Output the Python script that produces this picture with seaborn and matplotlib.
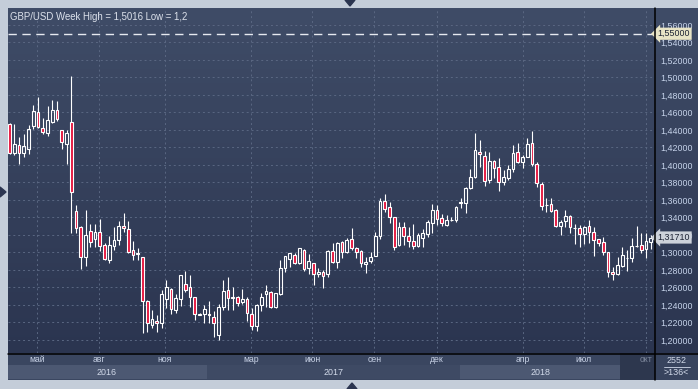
import numpy as np
import pandas as pd
import matplotlib
matplotlib.use("Agg")
import matplotlib.pyplot as plt
import matplotlib.transforms as mtransforms
from matplotlib.colors import LinearSegmentedColormap
from matplotlib.patches import Rectangle, Polygon
from matplotlib.lines import Line2D
import seaborn as sns

# weekly GBP/USD candles
opens = [1.4469, 1.4141, 1.4225, 1.4134, 1.4179, 1.4449, 1.4602, 1.4427, 1.4362, 1.4495,
         1.4625, 1.4397, 1.4237, 1.4492, 1.3474, 1.3291, 1.2945, 1.3246, 1.3151, 1.3231,
         1.3082, 1.2918, 1.3078, 1.3139, 1.3303, 1.3265, 1.3025, 1.2990, 1.2945, 1.2442,
         1.2168, 1.2221, 1.2198, 1.2472, 1.2579, 1.2343, 1.2472, 1.2636, 1.2602, 1.2488,
         1.2290, 1.2293, 1.2293, 1.2259, 1.2053, 1.2381, 1.2571, 1.2476, 1.2495, 1.2431,
         1.2469, 1.2293, 1.2164, 1.2396, 1.2522, 1.2552, 1.2373, 1.2526, 1.2819, 1.2929,
         1.2968, 1.2884, 1.3029, 1.2819, 1.2877, 1.2758, 1.2781, 1.2751, 1.3021, 1.2888,
         1.3117, 1.3006, 1.3151, 1.3048, 1.3017, 1.2869, 1.2907, 1.2964, 1.3192, 1.3592,
         1.3516, 1.3402, 1.3086, 1.3295, 1.3189, 1.3131, 1.3074, 1.3170, 1.3211, 1.3333,
         1.3486, 1.3391, 1.3314, 1.3371, 1.3371, 1.3566, 1.3569, 1.3734, 1.3859, 1.4149,
         1.4103, 1.3829, 1.4046, 1.3974, 1.3809, 1.3848, 1.3951, 1.4152, 1.4038, 1.4095,
         1.4248, 1.4008, 1.3779, 1.3540, 1.3551, 1.3486, 1.3307, 1.3360, 1.3417, 1.3280,
         1.3276, 1.3208, 1.3307, 1.3231, 1.3150, 1.3117, 1.3002, 1.2773, 1.2750, 1.2849,
         1.2935, 1.2933, 1.3074, 1.3086, 1.3036, 1.3124]
highs = [1.4480, 1.4469, 1.4316, 1.4354, 1.4453, 1.4686, 1.4777, 1.4534, 1.4678, 1.4743,
         1.4728, 1.4400, 1.4404, 1.5016, 1.3543, 1.3300, 1.3486, 1.3326, 1.3326, 1.3379,
         1.3109, 1.3192, 1.3295, 1.3364, 1.3452, 1.3356, 1.3131, 1.3055, 1.2950, 1.2457,
         1.2343, 1.2286, 1.2571, 1.2686, 1.2590, 1.2526, 1.2740, 1.2789, 1.2739, 1.2490,
         1.2312, 1.2403, 1.2442, 1.2328, 1.2411, 1.2686, 1.2717, 1.2602, 1.2507, 1.2583,
         1.2488, 1.2362, 1.2408, 1.2541, 1.2625, 1.2555, 1.2535, 1.2914, 1.2965, 1.2998,
         1.2998, 1.3050, 1.3040, 1.2986, 1.2884, 1.2819, 1.2800, 1.3029, 1.3105, 1.3124,
         1.3136, 1.3170, 1.3276, 1.3060, 1.3029, 1.2952, 1.3009, 1.3231, 1.3619, 1.3669,
         1.3581, 1.3405, 1.3345, 1.3345, 1.3295, 1.3326, 1.3227, 1.3269, 1.3371, 1.3554,
         1.3543, 1.3440, 1.3429, 1.3402, 1.3526, 1.3619, 1.3752, 1.3951, 1.4362, 1.4286,
         1.4164, 1.4152, 1.4057, 1.4076, 1.3943, 1.4000, 1.4229, 1.4248, 1.4114, 1.4312,
         1.4389, 1.4038, 1.3809, 1.3619, 1.3619, 1.3493, 1.3371, 1.3486, 1.3429, 1.3326,
         1.3318, 1.3303, 1.3371, 1.3295, 1.3152, 1.3173, 1.3005, 1.2838, 1.2952, 1.3059,
         1.3029, 1.3162, 1.3303, 1.3219, 1.3219, 1.3200]
lows = [1.4120, 1.4114, 1.4008, 1.4095, 1.4126, 1.4408, 1.4419, 1.4351, 1.4335, 1.4477,
        1.4503, 1.4187, 1.4012, 1.3227, 1.3219, 1.2808, 1.2849, 1.3067, 1.3065, 1.3021,
        1.2918, 1.2877, 1.3032, 1.3082, 1.3238, 1.2998, 1.2918, 1.2918, 1.2084, 1.2095,
        1.2141, 1.2087, 1.2141, 1.2362, 1.2297, 1.2312, 1.2389, 1.2549, 1.2377, 1.2229,
        1.2282, 1.2198, 1.2198, 1.2038, 1.2000, 1.2343, 1.2343, 1.2343, 1.2389, 1.2411,
        1.2221, 1.2114, 1.2107, 1.2335, 1.2381, 1.2370, 1.2370, 1.2518, 1.2773, 1.2838,
        1.2865, 1.2870, 1.2792, 1.2751, 1.2632, 1.2716, 1.2591, 1.2720, 1.2877, 1.2819,
        1.2933, 1.2990, 1.3029, 1.2941, 1.2838, 1.2769, 1.2876, 1.2960, 1.3154, 1.3459,
        1.3341, 1.3029, 1.3074, 1.3086, 1.3066, 1.3040, 1.3059, 1.3059, 1.3181, 1.3227,
        1.3314, 1.3307, 1.3303, 1.3364, 1.3352, 1.3505, 1.3455, 1.3722, 1.3848, 1.3981,
        1.3764, 1.3798, 1.3855, 1.3707, 1.3771, 1.3829, 1.3924, 1.4019, 1.3969, 1.4088,
        1.3992, 1.3752, 1.3486, 1.3467, 1.3467, 1.3295, 1.3200, 1.3295, 1.3219, 1.3097,
        1.3059, 1.3097, 1.3105, 1.2964, 1.3078, 1.2971, 1.2724, 1.2686, 1.2743, 1.2831,
        1.2792, 1.2895, 1.3059, 1.2998, 1.2933, 1.3036]
closes = [1.4134, 1.4237, 1.4134, 1.4217, 1.4408, 1.4617, 1.4431, 1.4374, 1.4511, 1.4625,
          1.4522, 1.4259, 1.4366, 1.3688, 1.3276, 1.2952, 1.3204, 1.3120, 1.3231, 1.3074,
          1.2922, 1.3082, 1.3139, 1.3303, 1.3276, 1.3009, 1.2968, 1.2985, 1.2442, 1.2191,
          1.2236, 1.2191, 1.2522, 1.2602, 1.2351, 1.2476, 1.2739, 1.2571, 1.2495, 1.2293,
          1.2295, 1.2351, 1.2290, 1.2191, 1.2381, 1.2560, 1.2484, 1.2488, 1.2419, 1.2469,
          1.2305, 1.2164, 1.2396, 1.2491, 1.2560, 1.2381, 1.2533, 1.2819, 1.2960, 1.2991,
          1.2884, 1.3048, 1.2808, 1.2903, 1.2751, 1.2781, 1.2731, 1.3021, 1.2895, 1.3105,
          1.3006, 1.3143, 1.3048, 1.3009, 1.2876, 1.2888, 1.2952, 1.3192, 1.3592, 1.3493,
          1.3402, 1.3066, 1.3295, 1.3192, 1.3135, 1.3078, 1.3200, 1.3227, 1.3345, 1.3486,
          1.3383, 1.3333, 1.3371, 1.3375, 1.3524, 1.3572, 1.3734, 1.3859, 1.4171, 1.4122,
          1.3821, 1.4046, 1.3969, 1.3802, 1.3859, 1.3951, 1.4133, 1.4031, 1.4088, 1.4240,
          1.4008, 1.3791, 1.3535, 1.3545, 1.3478, 1.3303, 1.3352, 1.3417, 1.3288, 1.3275,
          1.3208, 1.3295, 1.3231, 1.3143, 1.3105, 1.3009, 1.2773, 1.2750, 1.2853, 1.2971,
          1.2940, 1.3074, 1.3070, 1.3029, 1.3131, 1.3171]

price_ticks = [1.20, 1.22, 1.24, 1.26, 1.28, 1.30, 1.32, 1.34, 1.36, 1.38,
               1.40, 1.42, 1.44, 1.46, 1.48, 1.50, 1.52, 1.54, 1.56]
month_labels = ['май', 'авг', 'ноя', 'мар', 'июн', 'сен', 'дек', 'апр', 'июл', 'окт']
month_pos = [5.8, 18.8, 32.7, 50.8, 63.7, 76.8, 90.0, 108.1, 120.9, 134.0]
year_labels = ['2016', '2017', '2018']
year_start = [-0.7, 41.6, 94.8]
year_end = [41.6, 94.8, 128.6]
last_price = 1.31710
alert_level = 1.55
title = 'GBP/USD Week High = 1,5016 Low = 1,2'

df = pd.DataFrame({'open': opens, 'high': highs, 'low': lows, 'close': closes})
df['idx'] = np.arange(len(df))
df['up'] = df['close'] >= df['open']
df['body_lo'] = df[['open', 'close']].min(axis=1)
df['body_hi'] = df[['open', 'close']].max(axis=1)

sns.set_theme(style="dark")
plt.rcParams['font.family'] = ['Liberation Sans', 'DejaVu Sans']

W, H = 698, 389
fig = plt.figure(figsize=(W / 100, H / 100), dpi=100, facecolor='#c4cdd9')


def box(x0, y0, x1, y1):
    # pixel box (top-left origin) -> figure fraction rect
    return [x0 / W, 1 - y1 / H, (x1 - x0) / W, (y1 - y0) / H]


# dark background for plot + price scale
ax_bg = fig.add_axes(box(8, 8, 698, 353), zorder=0)
grad = LinearSegmentedColormap.from_list('bg', ['#3f4c67', '#2b3550'])
ax_bg.imshow(np.linspace(0, 1, 256).reshape(-1, 1), cmap=grad, aspect='auto',
             extent=[0, 1, 0, 1])
ax_bg.set_axis_off()

# time scale strip
ax_t = fig.add_axes(box(8, 353, 655, 380), zorder=1)
ax_t.set_facecolor('#3a4660')
ax_r = fig.add_axes(box(655, 353, 698, 380), zorder=1)
ax_r.set_facecolor('#38445e')
for a in (ax_t, ax_r):
    a.set_xticks([])
    a.set_yticks([])
    for s in a.spines.values():
        s.set_visible(False)

# main chart
ax = fig.add_axes(box(8, 8, 655, 353), zorder=2)
ax.set_facecolor('none')
xmin = -0.316
xmax = xmin + 647 / 4.75
ax.set_xlim(xmin, xmax)
ax.set_ylim(1.1851, 1.5794)
ax_t.set_xlim(xmin, xmax)
ax_t.set_ylim(0, 1)

# grid
for p in price_ticks:
    ax.axhline(p, color='#5a6782', lw=0.7, ls=(0, (2, 3)), zorder=1)
for m in month_pos:
    ax.axvline(m, color='#5a6782', lw=0.7, ls=(0, (2, 3)), zorder=1)

# alert line
ax.axhline(alert_level, color='#e6e9f0', lw=1.0, ls=(0, (6, 4)), zorder=2)

# candles
red = '#e5173f'
ax.vlines(df['idx'], df['body_hi'], df['high'], color='white', lw=0.8, zorder=3)
ax.vlines(df['idx'], df['low'], df['body_lo'], color='white', lw=0.8, zorder=3)
heights = np.maximum(df['body_hi'] - df['body_lo'], 0.0003)
ax.bar(df['idx'], heights, bottom=df['body_lo'], width=0.6,
       color=[('none' if u else red) for u in df['up']],
       edgecolor='white', linewidth=0.8, zorder=4)

ax.set_xticks([])
ax.set_yticks(price_ticks)
ax.set_yticklabels([f'{p:.5f}'.replace('.', ',') for p in price_ticks])
ax.yaxis.tick_right()
ax.tick_params(axis='y', length=0, pad=3.5, labelsize=6.4, labelcolor='#c6d3ea')
for s in ax.spines.values():
    s.set_visible(False)
ax.grid(False)

# price tags on the scale
ytrans = mtransforms.blended_transform_factory(ax.transAxes, ax.transData)
ax.text(1.004, alert_level, '1,55000', transform=ytrans, fontsize=6.4, color='#1c2233',
        va='center', ha='left', zorder=6, clip_on=False,
        bbox=dict(boxstyle='larrow,pad=0.18', fc='#e8e4c6', ec='none'))
ax.text(1.004, last_price, '1,31710', transform=ytrans, fontsize=6.4, color='#1c2233',
        va='center', ha='left', zorder=6, clip_on=False,
        bbox=dict(boxstyle='larrow,pad=0.18', fc='#cdd2da', ec='none'))

# year bands and month labels
for lab, x0, x1, k in zip(year_labels, year_start, year_end, range(3)):
    ax_t.add_patch(Rectangle((x0, 0.04), x1 - x0, 0.5,
                             color='#4c5872' if k % 2 == 0 else '#3e4a64', lw=0))
    ax_t.text((x0 + x1) / 2, 0.29, lab, ha='center', va='center',
              fontsize=6.4, color='#d2daea')
ax_t.add_patch(Rectangle((128.6, 0), xmax - 128.6, 1, color='#2d374e', lw=0))
for lab, m in zip(month_labels, month_pos):
    ax_t.text(m, 0.76, lab, ha='center', va='center', fontsize=6.2,
              color='#7d879b' if lab == 'окт' else '#c8d2e6')

ax_r.text(0.5, 0.72, '2552', transform=ax_r.transAxes, ha='center', va='center',
          fontsize=6.4, color='#d2daea')
ax_r.plot([0.2, 0.82], [0.5, 0.5], transform=ax_r.transAxes, color='#d2daea', lw=0.6)
ax_r.text(0.5, 0.27, '>136<', transform=ax_r.transAxes, ha='center', va='center',
          fontsize=6.4, color='#d2daea')

# separators
fig.add_artist(Line2D([655 / W, 655 / W], [1 - 380 / H, 1 - 8 / H], color='black', lw=1.1, zorder=10))
fig.add_artist(Line2D([8 / W, 1], [1 - 353.5 / H, 1 - 353.5 / H], color='black', lw=1.1, zorder=10))

# little scroll arrows on the frame
tri = '#2b3550'
fig.add_artist(Polygon([[345 / W, 1.0], [355 / W, 1.0], [350 / W, 1 - 6 / H]],
                       closed=True, color=tri, transform=fig.transFigure, zorder=10))
fig.add_artist(Polygon([[347 / W, 0.0], [357 / W, 0.0], [352 / W, 6 / H]],
                       closed=True, color=tri, transform=fig.transFigure, zorder=10))
fig.add_artist(Polygon([[0.0, 1 - 187 / H], [0.0, 1 - 197 / H], [6 / W, 1 - 192 / H]],
                       closed=True, color=tri, transform=fig.transFigure, zorder=10))

fig.text(10 / W, 1 - 17 / H, title, fontsize=6.9, color='#dde2ec', ha='left', va='center', zorder=10)

fig.savefig('out.png', dpi=100, facecolor=fig.get_facecolor())
